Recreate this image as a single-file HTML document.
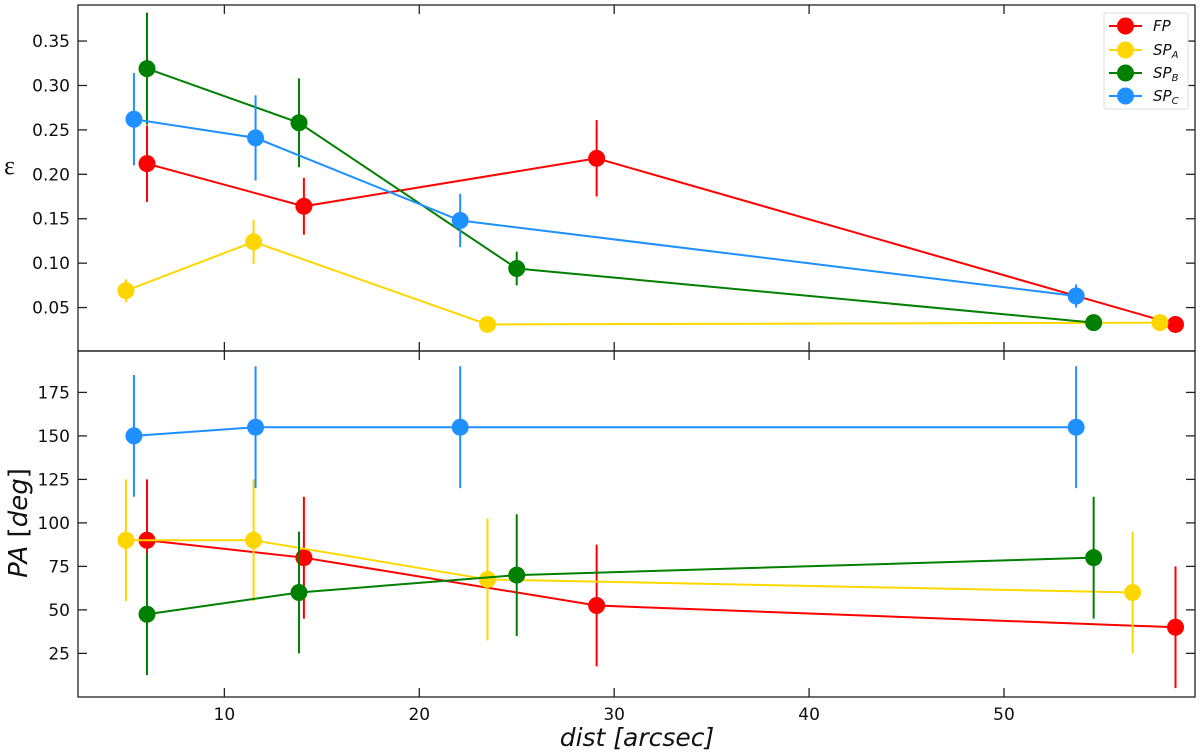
<!DOCTYPE html>
<html><head><meta charset="utf-8"><style>
body{margin:0;background:#fff}
svg{display:block;font-family:"DejaVu Sans","Liberation Sans",sans-serif}
</style></head><body>
<svg id="c" width="1200" height="753"></svg>
<script>
const seriesNames=["FP","SP_A","SP_B","SP_C"];
const colors=["#ff0000","#ffd700","#008000","#1e90ff"];
const topX=[[6.03,14.08,29.1,58.8],[4.95,11.5,23.5,58.0],[6.03,13.83,25.0,54.6],[5.36,11.6,22.1,53.7]];
const topY=[[0.212,0.164,0.218,0.031],[0.069,0.124,0.031,0.033],[0.319,0.258,0.094,0.033],[0.262,0.241,0.148,0.063]];
const topErr=[[0.043,0.032,0.043,0],[0.013,0.025,0,0],[0.063,0.05,0.019,0],[0.052,0.048,0.03,0.013]];
const botX=[[6.03,14.08,29.1,58.8],[4.95,11.5,23.5,56.6],[6.03,13.83,25.0,54.6],[5.36,11.6,22.1,53.7]];
const botY=[[90,80,52.5,40],[90,90,67.5,60],[47.5,60,70,80],[150,155,155,155]];
const botErr=[[35,35,35,35],[35,35,35,35],[35,35,35,35],[35,35,35,35]];
const xTicks=[10,20,30,40,50];
const topTicks=[0.05,0.10,0.15,0.20,0.25,0.30,0.35];
const botTicks=[25,50,75,100,125,150,175];

const L=78,R=1195,T1=5,B1=351,T2=351,B2=697;
const sx=v=>L+(v-2.49)/(59.8-2.49)*(R-L);
const sy1=v=>T1+(0.3906-v)/(0.3906-0.0011)*(B1-T1);
const sy2=v=>T2+(198.8-v)/(198.8+0.08)*(B2-T2);
const svg=document.getElementById('c');
const NS="http://www.w3.org/2000/svg";
function mk(tag,a,parent){const e=document.createElementNS(NS,tag);for(const k in a)e.setAttribute(k,a[k]);(parent||svg).appendChild(e);return e;}

function panel(X,Y,E,sy,T,B,ticks,fmt,pname){
  const g=mk('g',{});
  
  
  for(let s=0;s<4;s++){
    const sg=mk('g',{},g);
    
    
    const pts=X[s].map((x,i)=>sx(x)+','+sy(Y[s][i])).join(' ');
    mk('polyline',{points:pts,fill:'none',stroke:colors[s],'stroke-width':2},sg);
    X[s].forEach((x,i)=>{
      if(E[s][i]>0){
        const eb=mk('line',{x1:sx(x),x2:sx(x),y1:sy(Y[s][i]+E[s][i]),y2:sy(Y[s][i]-E[s][i]),stroke:colors[s],'stroke-width':2},sg);
        
        
      }
    });
    X[s].forEach((x,i)=>{
      const c=mk('circle',{cx:sx(x),cy:sy(Y[s][i]),r:8.5,fill:colors[s]},sg);
      
      
    });
  }
  mk('rect',{x:L,y:T,width:R-L,height:B-T,fill:'none',stroke:'#222','stroke-width':1.3},g);
  xTicks.forEach(t=>{
    mk('line',{x1:sx(t),x2:sx(t),y1:B,y2:B-9,stroke:'#222','stroke-width':1.3},g);
    mk('line',{x1:sx(t),x2:sx(t),y1:T,y2:T+9,stroke:'#222','stroke-width':1.3},g);
  });
  ticks.forEach(t=>{
    mk('line',{x1:L,x2:L+9,y1:sy(t),y2:sy(t),stroke:'#222','stroke-width':1.3},g);
    mk('line',{x1:R,x2:R-9,y1:sy(t),y2:sy(t),stroke:'#222','stroke-width':1.3},g);
    const tx=mk('text',{x:L-8,y:sy(t)+6,'text-anchor':'end','font-size':17,fill:'#111'},g);
    tx.textContent=fmt(t);
    
    
  });
}
panel(topX,topY,topErr,sy1,T1,B1,topTicks,t=>t.toFixed(2),'top-panel');
panel(botX,botY,botErr,sy2,T2,B2,botTicks,t=>String(t),'bottom-panel');
xTicks.forEach(t=>{
  const tx=mk('text',{x:sx(t),y:720,'text-anchor':'middle','font-size':17,fill:'#111'});
  tx.textContent=t;
  
  
});
</script>
<svg style="position:absolute;left:0;top:0" width="1200" height="753">
<text x="4" y="174" font-size="26" font-family="Liberation Serif,serif" fill="#111">ε</text>
<text transform="translate(27,523) rotate(-90)" text-anchor="middle" font-size="26" font-family="DejaVu Sans,sans-serif" fill="#111"><tspan font-style="italic">PA</tspan> [<tspan font-style="italic">deg</tspan>]</text>
<text x="637" y="746" text-anchor="middle" font-size="25" font-style="italic" font-family="DejaVu Sans,sans-serif" fill="#111">dist [arcsec]</text>
<g font-family="DejaVu Sans,sans-serif" font-style="italic" font-size="15" fill="#111">
<rect x="1104" y="13" width="84" height="96" fill="#fff" stroke="#ddd" rx="2"/>
<g><line x1="1109" x2="1142" y1="26" y2="26" stroke="#ff0000" stroke-width="2"/><circle cx="1125.5" cy="26" r="8.5" fill="#ff0000"/><text x="1153" y="31">FP</text></g>
<g><line x1="1109" x2="1142" y1="50" y2="50" stroke="#ffd700" stroke-width="2"/><circle cx="1125.5" cy="50" r="8.5" fill="#ffd700"/><text x="1153" y="55">SP<tspan font-size="10" dy="3">A</tspan></text></g>
<g><line x1="1109" x2="1142" y1="73" y2="73" stroke="#008000" stroke-width="2"/><circle cx="1125.5" cy="73" r="8.5" fill="#008000"/><text x="1153" y="78">SP<tspan font-size="10" dy="3">B</tspan></text></g>
<g><line x1="1109" x2="1142" y1="96" y2="96" stroke="#1e90ff" stroke-width="2"/><circle cx="1125.5" cy="96" r="8.5" fill="#1e90ff"/><text x="1153" y="101">SP<tspan font-size="10" dy="3">C</tspan></text></g>
</g>
</svg>
</body></html>
